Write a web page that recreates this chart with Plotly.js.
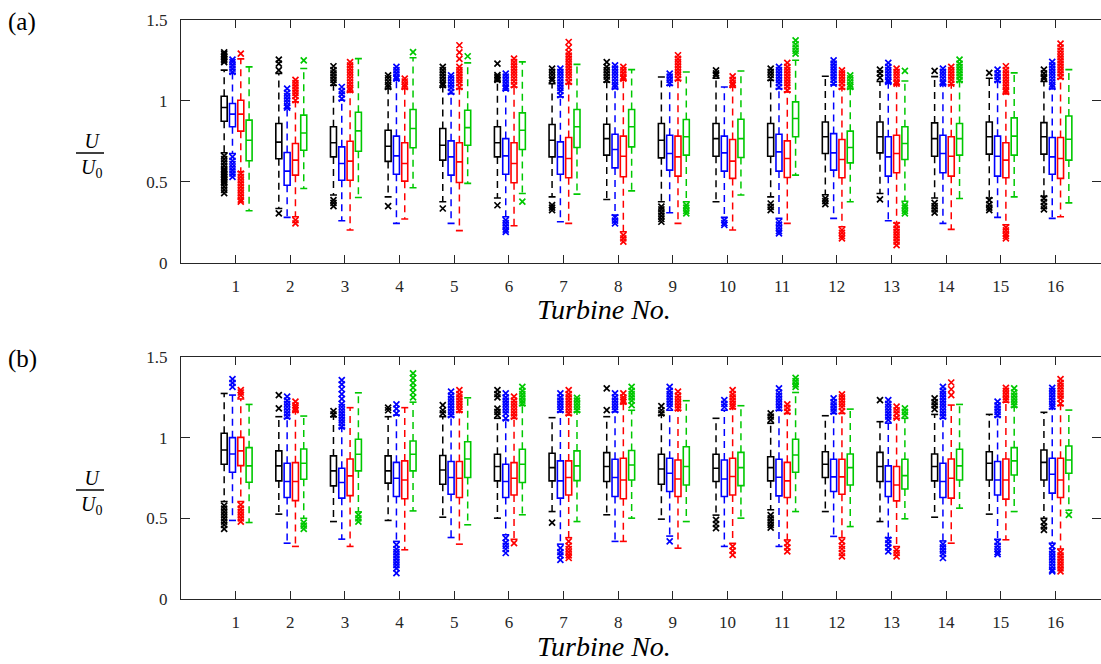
<!DOCTYPE html>
<html>
<head>
<meta charset="utf-8">
<script src="https://cdn.plot.ly/plotly-3.0.1.min.js"></script>
<style>html,body{margin:0;padding:0;background:#fff;}#chart{width:1101px;height:664px;}</style>
</head>
<body>
<div id="chart"></div>
<script>
// ---------------- DATA ----------------
const turbines = [1,2,3,4,5,6,7,8,9,10,11,12,13,14,15,16];
const yTickVals = [0, 0.5, 1, 1.5];
const yTickText = ['0', '0.5', '1', '1.5'];
const xTitle = 'Turbine No.';
const panelLabels = ['(a)', '(b)'];

// per turbine: [lower whisker, q1, median, q3, upper whisker]
const aBlack = [[0.68,0.874,0.959,1.029,1.19],[0.335,0.642,0.745,0.860,1.17],[0.418,0.654,0.741,0.840,1.097],[0.407,0.626,0.720,0.819,1.076],
  [0.377,0.634,0.726,0.829,1.086],[0.40,0.654,0.741,0.840,1.12],[0.407,0.654,0.757,0.854,1.107],[0.391,0.665,0.767,0.856,1.117],
  [0.377,0.648,0.757,0.860,1.148],[0.377,0.658,0.767,0.860,1.14],[0.407,0.658,0.774,0.860,1.128],[0.42,0.675,0.778,0.870,1.152],
  [0.428,0.679,0.778,0.870,1.12],[0.40,0.658,0.767,0.864,1.15],[0.40,0.671,0.778,0.870,1.14],[0.41,0.671,0.778,0.866,1.12]];
const aBlackOut = [[1.30,1.29,1.28,1.27,1.26,1.25,1.24,0.66,0.64,0.62,0.60,0.58,0.57,0.56,0.55,0.54,0.53,0.52,0.51,0.50,0.49,0.47,0.45,0.43],
  [1.255,1.23,1.19,0.305],[1.214,1.19,1.17,1.15,1.13,1.11,0.387,0.37,0.35],[1.158,1.14,1.12,1.10,1.086,0.35],
  [1.21,1.19,1.17,1.15,1.13,1.11,1.097,0.335],[1.23,1.16,1.15,1.14,1.13,0.355],[1.20,1.18,1.16,1.14,1.128,0.356,0.34,0.325],[1.24,1.21,1.19,1.17,1.15,1.13],
  [0.346,0.33,0.31,0.29,0.27,0.253],[1.189,1.17,1.158],[1.20,1.18,1.16,1.14,0.366,0.345,0.325],[0.397,0.38,0.362],
  [1.193,1.17,1.144,0.391],[1.185,0.37,0.35,0.33,0.309],[1.173,0.387,0.36,0.34,0.325],[1.193,1.17,1.15,1.138,0.397,0.375,0.35,0.329]];

const aBlue = [[0.675,0.840,0.918,0.984,1.17],[0.280,0.479,0.566,0.681,0.953],[0.259,0.510,0.613,0.716,1.004],[0.243,0.547,0.660,0.782,1.128],
  [0.243,0.541,0.654,0.753,1.045],[0.284,0.547,0.660,0.767,1.066],[0.253,0.547,0.654,0.747,1.025],[0.294,0.586,0.700,0.794,1.076],
  [0.309,0.572,0.675,0.788,1.097],[0.28,0.566,0.679,0.782,1.086],[0.274,0.566,0.685,0.794,1.076],[0.274,0.572,0.679,0.798,1.10],
  [0.259,0.535,0.654,0.778,1.11],[0.243,0.556,0.675,0.788,1.10],[0.280,0.535,0.658,0.782,1.12],[0.274,0.547,0.654,0.774,1.076]];
const aBlueOut = [[1.255,1.24,1.22,1.20,1.18,0.654,0.63,0.61,0.59,0.57,0.55,0.531],[1.076,1.05,1.03,1.01,0.99,0.97,0.959],[1.086,1.06,1.04,1.014],[1.21,1.19,1.17,1.15,1.138],
  [1.158,1.14,1.12,1.10,1.08,1.056],[1.169,1.15,1.13,1.11,1.09,1.076,0.263,0.245,0.225,0.205,0.191],[1.20,1.18,1.16,1.14,1.12,1.10,1.08,1.06,1.035],[1.22,1.20,1.18,1.16,1.14,1.12,1.10,1.086,0.28,0.26,0.243],
  [1.169,1.15,1.13,1.11],[0.263,0.245,0.233],[1.21,1.19,1.17,1.15,1.13,1.11,1.086,0.253,0.235,0.215,0.195,0.181],[1.251,1.23,1.21,1.19,1.17,1.15,1.13,1.107],
  [1.235,1.21,1.19,1.17,1.15,1.13,1.117],[1.20,1.18,1.16,1.14,1.12,1.107],[1.193,1.17,1.15,1.128],[1.241,1.22,1.20,1.18,1.16,1.14,1.12,1.10,1.086]];

const aRed = [[0.562,0.813,0.918,1.004,1.26],[0.284,0.541,0.634,0.737,0.994],[0.202,0.510,0.628,0.751,1.056],[0.270,0.504,0.613,0.741,1.076],
  [0.198,0.496,0.623,0.741,1.076],[0.228,0.494,0.613,0.741,1.086],[0.243,0.525,0.644,0.774,1.107],[0.191,0.531,0.658,0.782,1.128],
  [0.243,0.535,0.654,0.782,1.128],[0.202,0.521,0.628,0.761,1.086],[0.243,0.527,0.644,0.753,1.056],[0.222,0.525,0.638,0.761,1.076],
  [0.245,0.556,0.675,0.788,1.10],[0.206,0.535,0.658,0.778,1.10],[0.235,0.525,0.634,0.741,1.045],[0.284,0.521,0.644,0.774,1.138]];
const aRedOut = [[1.292,0.551,0.53,0.51,0.49,0.47,0.45,0.43,0.41,0.39,0.377],[1.13,1.11,1.09,1.07,1.05,1.03,1.004,0.263,0.243],[1.24,1.22,1.20,1.18,1.16,1.14,1.12,1.10,1.08,1.066],[1.138,1.12,1.10,1.086],
  [1.344,1.30,1.26,1.21,1.19,1.17,1.15,1.13,1.11,1.086],[1.261,1.24,1.22,1.20,1.18,1.16,1.14,1.12,1.097],[1.364,1.33,1.30,1.28,1.26,1.24,1.22,1.20,1.18,1.16,1.14,1.117],[1.21,1.19,1.17,1.15,1.138,0.171,0.15,0.13],
  [1.282,1.26,1.24,1.22,1.20,1.18,1.16,1.138],[1.152,1.13,1.11,1.097],[1.235,1.21,1.19,1.17,1.15,1.13,1.11,1.09,1.066],[1.189,1.17,1.15,1.13,1.11,1.086,0.202,0.185,0.165,0.150],
  [1.20,1.18,1.16,1.14,1.12,1.107,0.232,0.21,0.19,0.17,0.15,0.13,0.109],[1.21,1.19,1.17,1.15,1.13,1.107],[1.214,1.19,1.17,1.15,1.13,1.11,1.09,1.07,1.056,0.218,0.20,0.18,0.165,0.150],[1.354,1.33,1.31,1.29,1.27,1.25,1.23,1.21,1.19,1.17,1.148]];

const aGreen = [[0.321,0.630,0.757,0.881,1.21],[0.459,0.695,0.802,0.912,1.20],[0.403,0.689,0.815,0.930,1.261],[0.463,0.710,0.829,0.947,1.267],
  [0.490,0.726,0.835,0.942,1.235],[0.428,0.700,0.819,0.926,1.241],[0.424,0.712,0.840,0.947,1.226],[0.444,0.716,0.840,0.947,1.193],
  [0.377,0.665,0.778,0.885,1.179],[0.418,0.650,0.767,0.887,1.185],[0.541,0.778,0.891,0.994,1.251],[0.377,0.617,0.712,0.813,1.076],
  [0.38,0.638,0.737,0.840,1.123],[0.397,0.665,0.767,0.860,1.12],[0.407,0.665,0.782,0.895,1.173],[0.370,0.634,0.763,0.907,1.193]];
const aGreenOut = [[],[1.251],[],[1.302],
  [1.276],[0.377],[],[],
  [0.356,0.34,0.32,0.305],[],[1.374,1.35,1.33,1.31,1.292],[1.158,1.14,1.12,1.10,1.086],
  [1.185,0.356,0.34,0.32,0.305],[1.255,1.23,1.21,1.19,1.17,1.15,1.128],[],[]];

const bBlack = [[0.604,0.835,0.924,1.027,1.274],[0.526,0.732,0.825,0.918,1.130],[0.480,0.701,0.794,0.887,1.130],[0.487,0.718,0.794,0.887,1.130],
  [0.507,0.711,0.800,0.889,1.13],[0.501,0.732,0.821,0.897,1.12],[0.542,0.732,0.814,0.903,1.124],[0.522,0.728,0.821,0.907,1.13],
  [0.495,0.711,0.806,0.897,1.14],[0.52,0.728,0.810,0.897,1.120],[0.553,0.732,0.814,0.882,1.089],[0.542,0.753,0.835,0.913,1.136],
  [0.480,0.728,0.821,0.909,1.099],[0.507,0.732,0.821,0.899,1.144],[0.526,0.738,0.841,0.913,1.144],[0.50,0.738,0.847,0.924,1.157]];
const bBlackOut = [[0.579,0.56,0.54,0.52,0.50,0.48,0.46,0.435],[1.264,1.181],[1.165,1.144],[1.186,1.17],
  [1.202,1.17,1.151],[1.295,1.27,1.25,1.18,1.16,1.14],[0.474],[1.305,1.171],
  [1.196,1.17,1.151],[0.491,0.465,0.439],[1.151,1.13,1.11,0.52,0.50,0.48,0.46,0.443],[],
  [1.233],[1.243,1.22,1.20,1.177],[],[0.476,0.45,0.429]];

const bBlue = [[0.487,0.786,0.899,1.0,1.264],[0.346,0.629,0.728,0.841,1.12],[0.371,0.625,0.722,0.810,1.06],[0.357,0.635,0.748,0.847,1.14],
  [0.381,0.649,0.753,0.852,1.13],[0.398,0.629,0.728,0.835,1.11],[0.34,0.625,0.732,0.856,1.16],[0.357,0.635,0.753,0.866,1.16],
  [0.39,0.666,0.779,0.872,1.17],[0.326,0.635,0.744,0.862,1.17],[0.326,0.639,0.755,0.866,1.17],[0.388,0.666,0.757,0.866,1.15],
  [0.38,0.635,0.728,0.825,1.09],[0.36,0.629,0.728,0.841,1.12],[0.37,0.645,0.738,0.852,1.13],[0.346,0.656,0.773,0.872,1.18]];
const bBlueOut = [[1.363,1.34,1.315],[1.254,1.23,1.21,1.19,1.17,1.15,1.130],[1.357,1.33,1.30,1.27,1.24,1.21,1.19,1.17,1.15,1.13,1.11,1.09,1.068],[1.206,1.18,1.151,0.336,0.31,0.29,0.27,0.25,0.23,0.21,0.19,0.161],
  [1.285,1.26,1.24,1.22,1.20,1.18,1.16,1.14],[1.274,1.25,1.23,1.21,1.19,1.17,1.15,1.12,0.377,0.35,0.33,0.31,0.285],[1.274,1.25,1.23,1.21,1.19,1.171,0.315,0.29,0.27,0.243],[1.274,1.25,1.23,1.21,1.19,1.171],
  [1.315,1.29,1.27,1.25,1.23,1.21,1.19,0.357],[1.233,1.21,1.19],[1.305,1.28,1.26,1.24,1.22,1.20,1.181],[1.243,1.22,1.20,1.18,1.161],
  [1.233,1.21,1.19,1.17,1.15,1.13,1.11,0.367,0.345,0.32,0.295],[1.315,1.29,1.27,1.25,1.23,1.21,1.19,1.17,1.15,1.13,0.340,0.32,0.30,0.28,0.254],[1.223,1.20,1.18,1.16,1.14,0.353,0.33,0.31,0.29,0.278],[1.309,1.29,1.27,1.25,1.23,1.21,1.192,0.326,0.30,0.28,0.26,0.24,0.22,0.20,0.18,0.171]];

const bRed = [[0.604,0.827,0.918,1.002,1.24],[0.326,0.610,0.728,0.845,1.16],[0.326,0.641,0.763,0.868,1.186],[0.305,0.621,0.738,0.856,1.186],
  [0.340,0.629,0.748,0.852,1.16],[0.37,0.645,0.748,0.845,1.12],[0.38,0.645,0.753,0.856,1.14],[0.357,0.621,0.738,0.872,1.21],
  [0.315,0.635,0.744,0.862,1.17],[0.345,0.645,0.759,0.872,1.18],[0.366,0.629,0.732,0.847,1.15],[0.38,0.649,0.757,0.866,1.15],
  [0.325,0.608,0.707,0.821,1.12],[0.346,0.625,0.748,0.868,1.202],[0.367,0.619,0.738,0.868,1.22],[0.31,0.629,0.738,0.872,1.20]];
const bRedOut = [[1.295,1.28,1.264,0.584,0.56,0.54,0.52,0.50,0.48],[1.223,1.20,1.185,1.171],[],[],
  [1.295,1.27,1.25,1.23,1.21,1.19,1.171],[1.254,1.23,1.21,1.19,1.17,1.15,1.13,0.346],[1.295,1.27,1.25,1.23,1.21,1.19,1.17,1.151,0.357,0.33,0.31,0.29,0.27,0.254],[1.274,1.25,1.235,1.223],
  [1.285,1.26,1.24,1.22,1.20,1.181],[1.295,1.27,1.25,1.23,1.21,1.192,0.326,0.30,0.274],[1.206,1.185,1.161,0.346,0.32,0.295],[1.268,1.25,1.23,1.21,1.19,1.165,0.357,0.33,0.31,0.285,0.264],
  [1.192,1.17,1.15,1.124,0.305,0.285,0.264],[1.342,1.30,1.264],[1.309,1.29,1.27,1.25,1.233],[1.363,1.34,1.32,1.30,1.28,1.26,1.24,1.212,0.291,0.27,0.25,0.23,0.21,0.19,0.171]];

const bGreen = [[0.474,0.724,0.825,0.938,1.206],[0.50,0.742,0.841,0.930,1.134],[0.54,0.794,0.897,0.990,1.278],[0.546,0.794,0.897,0.979,1.22],
  [0.460,0.753,0.868,0.975,1.247],[0.522,0.722,0.835,0.928,1.20],[0.480,0.734,0.825,0.918,1.16],[0.501,0.738,0.831,0.920,1.17],
  [0.480,0.707,0.821,0.944,1.229],[0.501,0.703,0.814,0.909,1.198],[0.542,0.786,0.893,0.990,1.28],[0.449,0.707,0.814,0.899,1.177],
  [0.497,0.682,0.765,0.866,1.12],[0.563,0.738,0.825,0.928,1.206],[0.542,0.769,0.856,0.938,1.19],[0.55,0.779,0.862,0.948,1.171]];
const bGreenOut = [[],[0.474,0.455,0.435],[0.522,0.50,0.48],[1.398,1.37,1.34,1.31,1.28,1.25],
  [],[1.315,1.29,1.27,1.25,1.23,1.212],[1.247,1.23,1.21,1.19,1.171],[1.315,1.29,1.27,1.25,1.23,1.202],
  [],[],[1.371,1.35,1.33,1.315],[],
  [1.181,1.16,1.140],[],[1.305,1.28,1.26,1.24,1.22,1.202],[0.522]];

// ---------------- STYLE ----------------
const colors = ['#000000', '#0000ff', '#ff0000', '#00c800'];
const offsets = [-0.21, -0.058, 0.094, 0.246];
const boxWidth = 0.11;
const axisColor = '#262626';
const serif = 'Liberation Serif, Times New Roman, DejaVu Serif, serif';

const W = 1101, H = 664;
const M = {l: 181, r: 0, t: 20, b: 65};
const plotW = W - M.l - M.r, plotH = H - M.t - M.b;
const px2x = px => (px - M.l) / plotW;
const px2y = py => (H - M.b - py) / plotH;

const traces = [];
function addPanel(statsList, outList, xa, ya) {
  statsList.forEach((stats, k) => {
    const col = colors[k];
    const xs = turbines.map(t => t + offsets[k]);
    // dashed whiskers
    const wx = [], wy = [];
    stats.forEach((s, i) => {
      wx.push(xs[i], xs[i], null, xs[i], xs[i], null);
      wy.push(s[3], s[4], null, s[1], s[0], null);
    });
    traces.push({type: 'scatter', mode: 'lines', x: wx, y: wy, xaxis: xa, yaxis: ya,
      line: {color: col, width: 1.5, dash: '7px,5px'}, hoverinfo: 'skip', showlegend: false});
    // whisker caps
    const cx = [], cy = [];
    stats.forEach((s, i) => { cx.push(xs[i], xs[i]); cy.push(s[0], s[4]); });
    traces.push({type: 'scatter', mode: 'markers', x: cx, y: cy, xaxis: xa, yaxis: ya,
      marker: {symbol: 'line-ew', size: 5, color: col, line: {color: col, width: 1.6}},
      hoverinfo: 'skip', showlegend: false});
    // boxes
    traces.push({type: 'box', x: xs, xaxis: xa, yaxis: ya,
      q1: stats.map(s => s[1]), median: stats.map(s => s[2]), q3: stats.map(s => s[3]),
      lowerfence: stats.map(s => s[1]), upperfence: stats.map(s => s[3]),
      width: boxWidth, whiskerwidth: 0, boxpoints: false,
      line: {color: col, width: 1.6}, fillcolor: 'rgba(0,0,0,0)', showlegend: false});
    // outliers
    const ox = [], oy = [];
    outList[k].forEach((arr, i) => arr.forEach(v => { ox.push(xs[i]); oy.push(v); }));
    traces.push({type: 'scatter', mode: 'markers', x: ox, y: oy, xaxis: xa, yaxis: ya,
      marker: {symbol: 'x-thin', size: 6, color: col, line: {color: col, width: 1.7}},
      hoverinfo: 'skip', showlegend: false});
  });
}
addPanel([aBlack, aBlue, aRed, aGreen], [aBlackOut, aBlueOut, aRedOut, aGreenOut], 'x', 'y');
addPanel([bBlack, bBlue, bRed, bGreen], [bBlackOut, bBlueOut, bRedOut, bGreenOut], 'x2', 'y2');

const xRange = [0, plotW / 54.65];
function xAxis(anchor) {
  return {domain: [0, 1], anchor: anchor, range: xRange, tickmode: 'array', tickvals: turbines,
    ticktext: turbines.map(String), ticks: 'inside', ticklen: 8, tickwidth: 1, tickcolor: axisColor,
    showline: true, linecolor: axisColor, linewidth: 1, mirror: 'ticks', showgrid: false, zeroline: false,
    tickfont: {family: serif, size: 17, color: axisColor}, ticklabelstandoff: 8};
}
function yAxis(anchor, domain) {
  return {domain: domain, anchor: anchor, range: [0, 1.5], tickmode: 'array', tickvals: yTickVals,
    ticktext: yTickText, ticks: 'inside', ticklen: 9, tickwidth: 1, tickcolor: axisColor,
    showline: true, linecolor: axisColor, linewidth: 1, mirror: 'ticks', showgrid: false, zeroline: false,
    tickfont: {family: serif, size: 17, color: axisColor}, ticklabelstandoff: 9};
}

const annotations = [], shapes = [];
const panelTopPx = [20, 357];
panelTopPx.forEach((top, p) => {
  const d = top - 20;
  annotations.push({xref: 'paper', yref: 'paper', x: px2x(22), y: px2y(22 + d), text: panelLabels[p],
    showarrow: false, xanchor: 'center', yanchor: 'middle', font: {family: serif, size: 25, color: '#000'}});
  // y-axis label as a stacked fraction U / U0
  annotations.push({xref: 'paper', yref: 'paper', x: px2x(91), y: px2y(155 + d),
    text: '<i>U</i><br><i>U</i><sub>0</sub>', align: 'center',
    showarrow: false, xanchor: 'center', yanchor: 'middle', font: {family: serif, size: 20, color: '#000'}});
  shapes.push({type: 'line', xref: 'paper', yref: 'paper', x0: px2x(76), x1: px2x(104),
    y0: px2y(153 + d), y1: px2y(153 + d), line: {color: '#000', width: 1.5}});
  annotations.push({xref: 'paper', yref: 'paper', x: px2x(604), y: px2y(309 + d), text: '<i>' + xTitle + '</i>',
    showarrow: false, xanchor: 'center', yanchor: 'middle', font: {family: serif, size: 28, color: '#000'}});
});

const layout = {
  width: W, height: H, margin: M, paper_bgcolor: '#fff', plot_bgcolor: '#fff',
  showlegend: false, boxmode: 'overlay',
  xaxis: xAxis('y'), yaxis: yAxis('x', [px2y(262.7), 1]),
  xaxis2: xAxis('y2'), yaxis2: yAxis('x2', [0, px2y(357)]),
  annotations: annotations, shapes: shapes
};

Plotly.newPlot('chart', traces, layout, {displayModeBar: false, staticPlot: true});
</script>
</body>
</html>
